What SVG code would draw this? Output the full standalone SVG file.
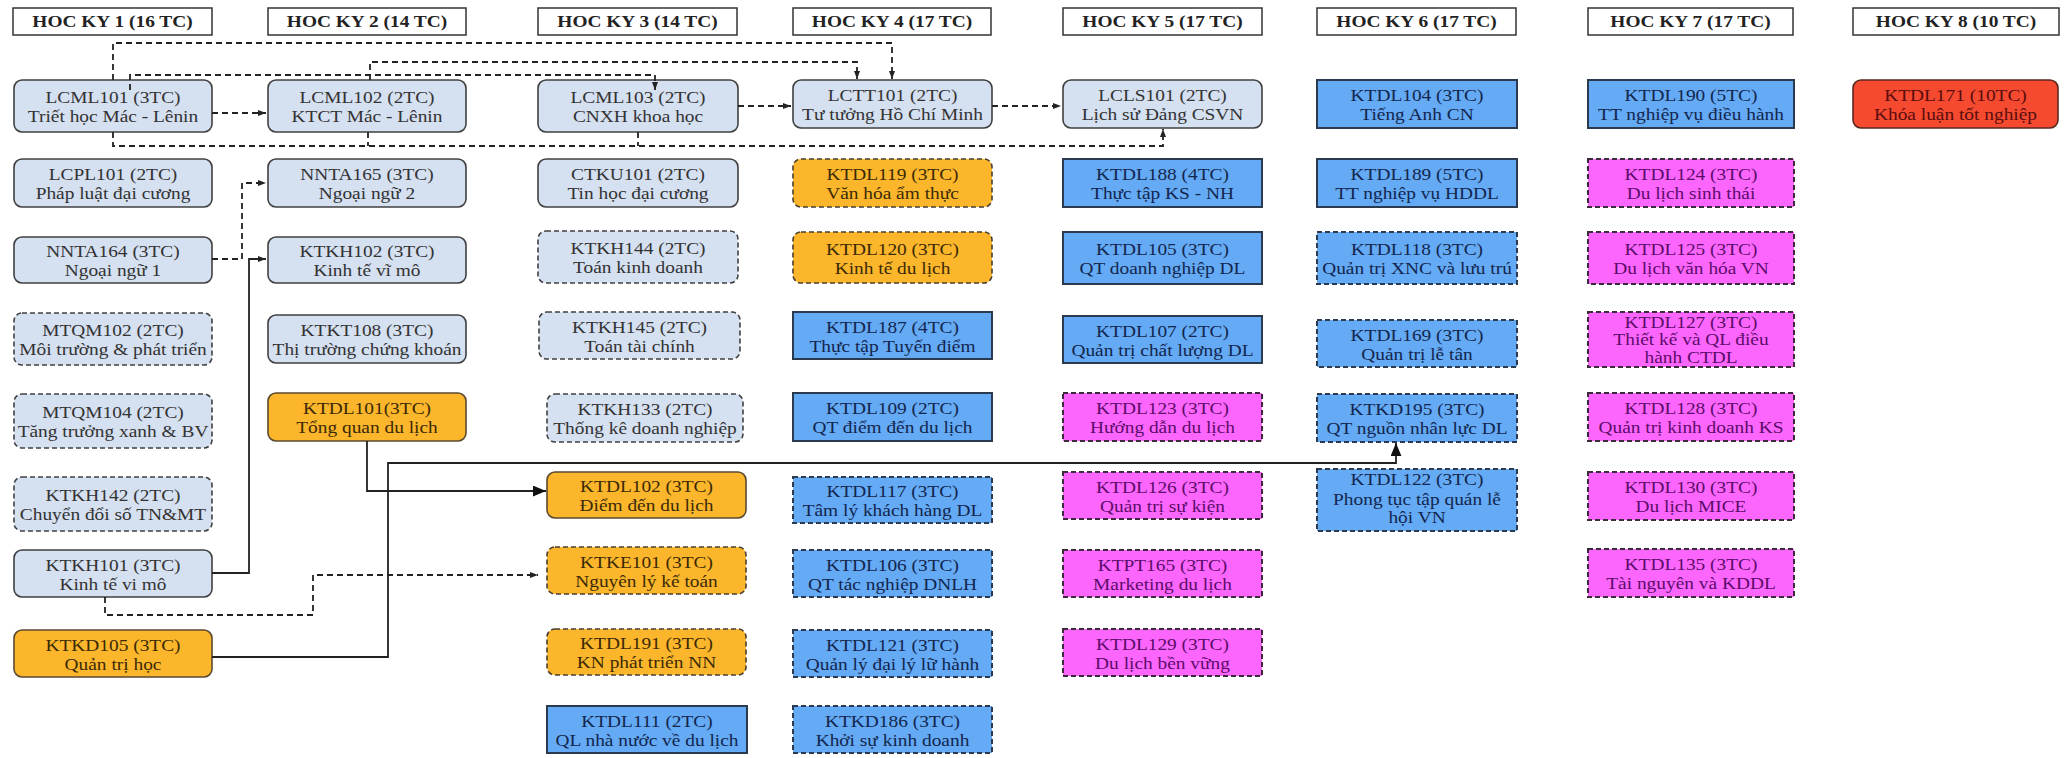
<svg xmlns="http://www.w3.org/2000/svg" width="2065" height="758" viewBox="0 0 2065 758">
<style>
.hd{fill:#fff;stroke:#333;stroke-width:1.5}
.lb{fill:#d5e0f1;stroke:#404040;stroke-width:1.6}
.lbd{fill:#d5e0f1;stroke:#404040;stroke-width:1.6;stroke-dasharray:5 3}
.or{fill:#fbb62c;stroke:#5a4a30;stroke-width:1.6}
.ord{fill:#fbb62c;stroke:#4a3f30;stroke-width:1.6;stroke-dasharray:5 3}
.bl{fill:#64aaf5;stroke:#2c3a50;stroke-width:2}
.bld{fill:#64aaf5;stroke:#2c3a50;stroke-width:2;stroke-dasharray:5 3}
.mg{fill:#fd66fd;stroke:#3a2a3a;stroke-width:2;stroke-dasharray:5 3}
.rd{fill:#f64a30;stroke:#5a2a20;stroke-width:1.6}
text{font-family:"Liberation Serif","Times New Roman",serif;font-size:17px;text-anchor:middle}
.th{font-weight:bold;fill:#222}
.tlb{fill:#333}
.tor{fill:#3b2a05}
.tbl{fill:#13264d}
.tmg{fill:#5c0c6a}
.trd{fill:#5a0d0d}
.cd{fill:none;stroke:#222;stroke-width:1.8;stroke-dasharray:6 4}
.cs{fill:none;stroke:#222;stroke-width:1.8}
</style>
<defs>
<marker id="as" viewBox="0 0 8 8" refX="8" refY="4" markerWidth="8" markerHeight="8" markerUnits="userSpaceOnUse" orient="auto"><path d="M0,1 L8,4 L0,7 Z" fill="#222"/></marker>
<marker id="ab" viewBox="0 0 12 10" refX="12" refY="5" markerWidth="13" markerHeight="11" markerUnits="userSpaceOnUse" orient="auto"><path d="M0,0 L12,5 L0,10 Z" fill="#111"/></marker>
</defs>
<rect width="2065" height="758" fill="#fff"/>

<g id="headers">
<g id="hk1"><rect class="hd" x="13" y="8" width="199" height="27"/><text class="th" transform="matrix(1.14 0 0 1 112.5 0)" x="0" y="27.5">HOC KY 1 (16 TC)</text></g>
<g id="hk2"><rect class="hd" x="268" y="8" width="198" height="27"/><text class="th" transform="matrix(1.14 0 0 1 367 0)" x="0" y="27.5">HOC KY 2 (14 TC)</text></g>
<g id="hk3"><rect class="hd" x="538" y="8" width="199" height="27"/><text class="th" transform="matrix(1.14 0 0 1 637.5 0)" x="0" y="27.5">HOC KY 3 (14 TC)</text></g>
<g id="hk4"><rect class="hd" x="793" y="8" width="198" height="27"/><text class="th" transform="matrix(1.14 0 0 1 892 0)" x="0" y="27.5">HOC KY 4 (17 TC)</text></g>
<g id="hk5"><rect class="hd" x="1063" y="8" width="199" height="27"/><text class="th" transform="matrix(1.14 0 0 1 1162.5 0)" x="0" y="27.5">HOC KY 5 (17 TC)</text></g>
<g id="hk6"><rect class="hd" x="1317" y="8" width="199" height="27"/><text class="th" transform="matrix(1.14 0 0 1 1416.5 0)" x="0" y="27.5">HOC KY 6 (17 TC)</text></g>
<g id="hk7"><rect class="hd" x="1588" y="8" width="205" height="27"/><text class="th" transform="matrix(1.14 0 0 1 1690.5 0)" x="0" y="27.5">HOC KY 7 (17 TC)</text></g>
<g id="hk8"><rect class="hd" x="1853" y="8" width="206" height="27"/><text class="th" transform="matrix(1.14 0 0 1 1956 0)" x="0" y="27.5">HOC KY 8 (10 TC)</text></g>
</g>

<g id="nodes">
<!-- Column 1 -->
<g id="LCML101"><rect class="lb" x="14" y="80" width="198" height="52" rx="8"/><text class="tlb" transform="matrix(1.14 0 0 1 113 0)"><tspan x="0" y="103">LCML101 (3TC)</tspan><tspan x="0" y="122">Triết học Mác - Lênin</tspan></text></g>
<g id="LCPL101"><rect class="lb" x="14" y="159" width="198" height="48" rx="8"/><text class="tlb" transform="matrix(1.14 0 0 1 113 0)"><tspan x="0" y="180">LCPL101 (2TC)</tspan><tspan x="0" y="199">Pháp luật đại cương</tspan></text></g>
<g id="NNTA164"><rect class="lb" x="14" y="237" width="198" height="46" rx="8"/><text class="tlb" transform="matrix(1.14 0 0 1 113 0)"><tspan x="0" y="257">NNTA164 (3TC)</tspan><tspan x="0" y="276">Ngoại ngữ 1</tspan></text></g>
<g id="MTQM102"><rect class="lbd" x="14" y="313" width="198" height="52" rx="8"/><text class="tlb" transform="matrix(1.14 0 0 1 113 0)"><tspan x="0" y="336">MTQM102 (2TC)</tspan><tspan x="0" y="355">Môi trường &amp; phát triển</tspan></text></g>
<g id="MTQM104"><rect class="lbd" x="14" y="394" width="198" height="54" rx="8"/><text class="tlb" transform="matrix(1.14 0 0 1 113 0)"><tspan x="0" y="418">MTQM104 (2TC)</tspan><tspan x="0" y="437">Tăng trưởng xanh &amp; BV</tspan></text></g>
<g id="KTKH142"><rect class="lbd" x="14" y="477" width="198" height="54" rx="8"/><text class="tlb" transform="matrix(1.14 0 0 1 113 0)"><tspan x="0" y="501">KTKH142 (2TC)</tspan><tspan x="0" y="520">Chuyển đổi số TN&amp;MT</tspan></text></g>
<g id="KTKH101"><rect class="lb" x="14" y="550" width="198" height="47" rx="8"/><text class="tlb" transform="matrix(1.14 0 0 1 113 0)"><tspan x="0" y="571">KTKH101 (3TC)</tspan><tspan x="0" y="590">Kinh tế vi mô</tspan></text></g>
<g id="KTKD105"><rect class="or" x="14" y="630" width="198" height="47" rx="8"/><text class="tor" transform="matrix(1.14 0 0 1 113 0)"><tspan x="0" y="651">KTKD105 (3TC)</tspan><tspan x="0" y="670">Quản trị học</tspan></text></g>

<!-- Column 2 -->
<g id="LCML102"><rect class="lb" x="268" y="80" width="198" height="52" rx="8"/><text class="tlb" transform="matrix(1.14 0 0 1 367 0)"><tspan x="0" y="103">LCML102 (2TC)</tspan><tspan x="0" y="122">KTCT Mác - Lênin</tspan></text></g>
<g id="NNTA165"><rect class="lb" x="268" y="159" width="198" height="48" rx="8"/><text class="tlb" transform="matrix(1.14 0 0 1 367 0)"><tspan x="0" y="180">NNTA165 (3TC)</tspan><tspan x="0" y="199">Ngoại ngữ 2</tspan></text></g>
<g id="KTKH102"><rect class="lb" x="268" y="237" width="198" height="46" rx="8"/><text class="tlb" transform="matrix(1.14 0 0 1 367 0)"><tspan x="0" y="257">KTKH102 (3TC)</tspan><tspan x="0" y="276">Kinh tế vĩ mô</tspan></text></g>
<g id="KTKT108"><rect class="lb" x="268" y="315" width="198" height="48" rx="8"/><text class="tlb" transform="matrix(1.14 0 0 1 367 0)"><tspan x="0" y="336">KTKT108 (3TC)</tspan><tspan x="0" y="355">Thị trường chứng khoán</tspan></text></g>
<g id="KTDL101"><rect class="or" x="268" y="393" width="198" height="48" rx="8"/><text class="tor" transform="matrix(1.14 0 0 1 367 0)"><tspan x="0" y="414">KTDL101(3TC)</tspan><tspan x="0" y="433">Tổng quan du lịch</tspan></text></g>

<!-- Column 3 -->
<g id="LCML103"><rect class="lb" x="538" y="80" width="200" height="52" rx="8"/><text class="tlb" transform="matrix(1.14 0 0 1 638 0)"><tspan x="0" y="103">LCML103 (2TC)</tspan><tspan x="0" y="122">CNXH khoa học</tspan></text></g>
<g id="CTKU101"><rect class="lb" x="538" y="159" width="200" height="48" rx="8"/><text class="tlb" transform="matrix(1.14 0 0 1 638 0)"><tspan x="0" y="180">CTKU101 (2TC)</tspan><tspan x="0" y="199">Tin học đại cương</tspan></text></g>
<g id="KTKH144"><rect class="lbd" x="538" y="231" width="200" height="52" rx="8"/><text class="tlb" transform="matrix(1.14 0 0 1 638 0)"><tspan x="0" y="254">KTKH144 (2TC)</tspan><tspan x="0" y="273">Toán kinh doanh</tspan></text></g>
<g id="KTKH145"><rect class="lbd" x="539" y="312" width="201" height="47" rx="8"/><text class="tlb" transform="matrix(1.14 0 0 1 639.5 0)"><tspan x="0" y="333">KTKH145 (2TC)</tspan><tspan x="0" y="352">Toán tài chính</tspan></text></g>
<g id="KTKH133"><rect class="lbd" x="547" y="394" width="196" height="48" rx="8"/><text class="tlb" transform="matrix(1.14 0 0 1 645 0)"><tspan x="0" y="415">KTKH133 (2TC)</tspan><tspan x="0" y="434">Thống kê doanh nghiệp</tspan></text></g>
<g id="KTDL102"><rect class="or" x="547" y="472" width="199" height="46" rx="8"/><text class="tor" transform="matrix(1.14 0 0 1 646.5 0)"><tspan x="0" y="492">KTDL102 (3TC)</tspan><tspan x="0" y="511">Điểm đến du lịch</tspan></text></g>
<g id="KTKE101"><rect class="ord" x="547" y="547" width="199" height="47" rx="8"/><text class="tor" transform="matrix(1.14 0 0 1 646.5 0)"><tspan x="0" y="568">KTKE101 (3TC)</tspan><tspan x="0" y="587">Nguyên lý kế toán</tspan></text></g>
<g id="KTDL191"><rect class="ord" x="547" y="629" width="199" height="46" rx="8"/><text class="tor" transform="matrix(1.14 0 0 1 646.5 0)"><tspan x="0" y="649">KTDL191 (3TC)</tspan><tspan x="0" y="668">KN phát triển NN</tspan></text></g>
<g id="KTDL111"><rect class="bl" x="547" y="706" width="200" height="47"/><text class="tbl" transform="matrix(1.14 0 0 1 647 0)"><tspan x="0" y="727">KTDL111 (2TC)</tspan><tspan x="0" y="746">QL nhà nước về du lịch</tspan></text></g>

<!-- Column 4 -->
<g id="LCTT101"><rect class="lb" x="793" y="80" width="199" height="48" rx="8"/><text class="tlb" transform="matrix(1.14 0 0 1 892.5 0)"><tspan x="0" y="101">LCTT101 (2TC)</tspan><tspan x="0" y="120">Tư tưởng Hồ Chí Minh</tspan></text></g>
<g id="KTDL119"><rect class="ord" x="793" y="159" width="199" height="48" rx="8"/><text class="tor" transform="matrix(1.14 0 0 1 892.5 0)"><tspan x="0" y="180">KTDL119 (3TC)</tspan><tspan x="0" y="199">Văn hóa ẩm thực</tspan></text></g>
<g id="KTDL120"><rect class="ord" x="793" y="232" width="199" height="51" rx="8"/><text class="tor" transform="matrix(1.14 0 0 1 892.5 0)"><tspan x="0" y="255">KTDL120 (3TC)</tspan><tspan x="0" y="274">Kinh tế du lịch</tspan></text></g>
<g id="KTDL187"><rect class="bl" x="793" y="312" width="199" height="47"/><text class="tbl" transform="matrix(1.14 0 0 1 892.5 0)"><tspan x="0" y="333">KTDL187 (4TC)</tspan><tspan x="0" y="352">Thực tập Tuyến điểm</tspan></text></g>
<g id="KTDL109"><rect class="bl" x="793" y="393" width="199" height="48"/><text class="tbl" transform="matrix(1.14 0 0 1 892.5 0)"><tspan x="0" y="414">KTDL109 (2TC)</tspan><tspan x="0" y="433">QT điểm đến du lịch</tspan></text></g>
<g id="KTDL117"><rect class="bld" x="793" y="477" width="199" height="46"/><text class="tbl" transform="matrix(1.14 0 0 1 892.5 0)"><tspan x="0" y="497">KTDL117 (3TC)</tspan><tspan x="0" y="516">Tâm lý khách hàng DL</tspan></text></g>
<g id="KTDL106"><rect class="bld" x="793" y="550" width="199" height="47"/><text class="tbl" transform="matrix(1.14 0 0 1 892.5 0)"><tspan x="0" y="571">KTDL106 (3TC)</tspan><tspan x="0" y="590">QT tác nghiệp DNLH</tspan></text></g>
<g id="KTDL121"><rect class="bld" x="793" y="630" width="199" height="47"/><text class="tbl" transform="matrix(1.14 0 0 1 892.5 0)"><tspan x="0" y="651">KTDL121 (3TC)</tspan><tspan x="0" y="670">Quản lý đại lý lữ hành</tspan></text></g>
<g id="KTKD186"><rect class="bld" x="793" y="706" width="199" height="47"/><text class="tbl" transform="matrix(1.14 0 0 1 892.5 0)"><tspan x="0" y="727">KTKD186  (3TC)</tspan><tspan x="0" y="746">Khởi sự kinh doanh</tspan></text></g>

<!-- Column 5 -->
<g id="LCLS101"><rect class="lb" x="1063" y="80" width="199" height="48" rx="8"/><text class="tlb" transform="matrix(1.14 0 0 1 1162.5 0)"><tspan x="0" y="101">LCLS101 (2TC)</tspan><tspan x="0" y="120">Lịch sử Đảng CSVN</tspan></text></g>
<g id="KTDL188"><rect class="bl" x="1063" y="159" width="199" height="48"/><text class="tbl" transform="matrix(1.14 0 0 1 1162.5 0)"><tspan x="0" y="180">KTDL188 (4TC)</tspan><tspan x="0" y="199">Thực tập KS - NH</tspan></text></g>
<g id="KTDL105"><rect class="bl" x="1063" y="232" width="199" height="52"/><text class="tbl" transform="matrix(1.14 0 0 1 1162.5 0)"><tspan x="0" y="255">KTDL105 (3TC)</tspan><tspan x="0" y="274">QT doanh nghiệp DL</tspan></text></g>
<g id="KTDL107"><rect class="bl" x="1063" y="316" width="199" height="47"/><text class="tbl" transform="matrix(1.14 0 0 1 1162.5 0)"><tspan x="0" y="337">KTDL107 (2TC)</tspan><tspan x="0" y="356">Quản trị chất lượng DL</tspan></text></g>
<g id="KTDL123"><rect class="mg" x="1063" y="393" width="199" height="48"/><text class="tmg" transform="matrix(1.14 0 0 1 1162.5 0)"><tspan x="0" y="414">KTDL123 (3TC)</tspan><tspan x="0" y="433">Hướng dẫn du lịch</tspan></text></g>
<g id="KTDL126"><rect class="mg" x="1063" y="472" width="199" height="47"/><text class="tmg" transform="matrix(1.14 0 0 1 1162.5 0)"><tspan x="0" y="493">KTDL126 (3TC)</tspan><tspan x="0" y="512">Quản trị sự kiện</tspan></text></g>
<g id="KTPT165"><rect class="mg" x="1063" y="550" width="199" height="47"/><text class="tmg" transform="matrix(1.14 0 0 1 1162.5 0)"><tspan x="0" y="571">KTPT165 (3TC)</tspan><tspan x="0" y="590">Marketing du lịch</tspan></text></g>
<g id="KTDL129"><rect class="mg" x="1063" y="629" width="199" height="47"/><text class="tmg" transform="matrix(1.14 0 0 1 1162.5 0)"><tspan x="0" y="650">KTDL129 (3TC)</tspan><tspan x="0" y="669">Du lịch bền vững</tspan></text></g>

<!-- Column 6 -->
<g id="KTDL104"><rect class="bl" x="1317" y="80" width="200" height="48"/><text class="tbl" transform="matrix(1.14 0 0 1 1417 0)"><tspan x="0" y="101">KTDL104 (3TC)</tspan><tspan x="0" y="120">Tiếng Anh CN</tspan></text></g>
<g id="KTDL189"><rect class="bl" x="1317" y="159" width="200" height="48"/><text class="tbl" transform="matrix(1.14 0 0 1 1417 0)"><tspan x="0" y="180">KTDL189 (5TC)</tspan><tspan x="0" y="199">TT nghiệp vụ HDDL</tspan></text></g>
<g id="KTDL118"><rect class="bld" x="1317" y="232" width="200" height="52"/><text class="tbl" transform="matrix(1.14 0 0 1 1417 0)"><tspan x="0" y="255">KTDL118 (3TC)</tspan><tspan x="0" y="274">Quản trị XNC và lưu trú</tspan></text></g>
<g id="KTDL169"><rect class="bld" x="1317" y="320" width="200" height="47"/><text class="tbl" transform="matrix(1.14 0 0 1 1417 0)"><tspan x="0" y="341">KTDL169 (3TC)</tspan><tspan x="0" y="360">Quản trị lễ tân</tspan></text></g>
<g id="KTKD195"><rect class="bld" x="1317" y="394" width="200" height="48"/><text class="tbl" transform="matrix(1.14 0 0 1 1417 0)"><tspan x="0" y="415">KTKD195 (3TC)</tspan><tspan x="0" y="434">QT nguồn nhân lực DL</tspan></text></g>
<g id="KTDL122"><rect class="bld" x="1317" y="469" width="200" height="62"/><text class="tbl" transform="matrix(1.14 0 0 1 1417 0)"><tspan x="0" y="485">KTDL122 (3TC)</tspan><tspan x="0" y="505">Phong tục tập quán lễ</tspan><tspan x="0" y="523">hội VN</tspan></text></g>

<!-- Column 7 -->
<g id="KTDL190"><rect class="bl" x="1588" y="80" width="206" height="48"/><text class="tbl" transform="matrix(1.14 0 0 1 1691 0)"><tspan x="0" y="101">KTDL190 (5TC)</tspan><tspan x="0" y="120">TT nghiệp vụ điều hành</tspan></text></g>
<g id="KTDL124"><rect class="mg" x="1588" y="159" width="206" height="48"/><text class="tmg" transform="matrix(1.14 0 0 1 1691 0)"><tspan x="0" y="180">KTDL124 (3TC)</tspan><tspan x="0" y="199">Du lịch sinh thái</tspan></text></g>
<g id="KTDL125"><rect class="mg" x="1588" y="232" width="206" height="52"/><text class="tmg" transform="matrix(1.14 0 0 1 1691 0)"><tspan x="0" y="255">KTDL125 (3TC)</tspan><tspan x="0" y="274">Du lịch văn hóa VN</tspan></text></g>
<g id="KTDL127"><rect class="mg" x="1588" y="312" width="206" height="55"/><text class="tmg" transform="matrix(1.14 0 0 1 1691 0)"><tspan x="0" y="328">KTDL127 (3TC)</tspan><tspan x="0" y="345.5">Thiết kế và QL điều</tspan><tspan x="0" y="363">hành CTDL</tspan></text></g>
<g id="KTDL128"><rect class="mg" x="1588" y="393" width="206" height="48"/><text class="tmg" transform="matrix(1.14 0 0 1 1691 0)"><tspan x="0" y="414">KTDL128 (3TC)</tspan><tspan x="0" y="433">Quản trị kinh doanh KS</tspan></text></g>
<g id="KTDL130"><rect class="mg" x="1588" y="472" width="206" height="48"/><text class="tmg" transform="matrix(1.14 0 0 1 1691 0)"><tspan x="0" y="493">KTDL130 (3TC)</tspan><tspan x="0" y="512">Du lịch MICE</tspan></text></g>
<g id="KTDL135"><rect class="mg" x="1588" y="549" width="206" height="48"/><text class="tmg" transform="matrix(1.14 0 0 1 1691 0)"><tspan x="0" y="570">KTDL135 (3TC)</tspan><tspan x="0" y="589">Tài nguyên và KDDL</tspan></text></g>

<!-- Column 8 -->
<g id="KTDL171"><rect class="rd" x="1853" y="80" width="205" height="48" rx="8"/><text class="trd" transform="matrix(1.14 0 0 1 1955.5 0)"><tspan x="0" y="101">KTDL171 (10TC)</tspan><tspan x="0" y="120">Khóa luận tốt nghiệp</tspan></text></g>
</g>

<g id="connectors">
<path class="cd" d="M113,80 V43 H892 V79" marker-end="url(#as)"/>
<path class="cd" d="M370,80 V62 H857 V79" marker-end="url(#as)"/>
<path class="cd" d="M130,90 V75 H655 V90" marker-end="url(#as)"/>
<path class="cd" d="M113,132 V146 H1163 V129" marker-end="url(#as)"/>
<path class="cd" d="M368,132 V146"/>
<path class="cd" d="M638,132 V146"/>
<path class="cd" d="M212,113 H266" marker-end="url(#as)"/>
<path class="cd" d="M738,106 H791" marker-end="url(#as)"/>
<path class="cd" d="M992,106 H1061" marker-end="url(#as)"/>
<path class="cd" d="M212,259 H242 V183 H266" marker-end="url(#as)"/>
<path class="cs" d="M212,573 H249 V259 H266" marker-end="url(#as)"/>
<path class="cd" d="M105,597 V615 H313 V575 H538" marker-end="url(#as)"/>
<path class="cs" d="M367,441 V491 H546" marker-end="url(#ab)"/>
<path class="cs" d="M212,657 H388 V463 H1396 V443" marker-end="url(#ab)"/>
</g>
</svg>
